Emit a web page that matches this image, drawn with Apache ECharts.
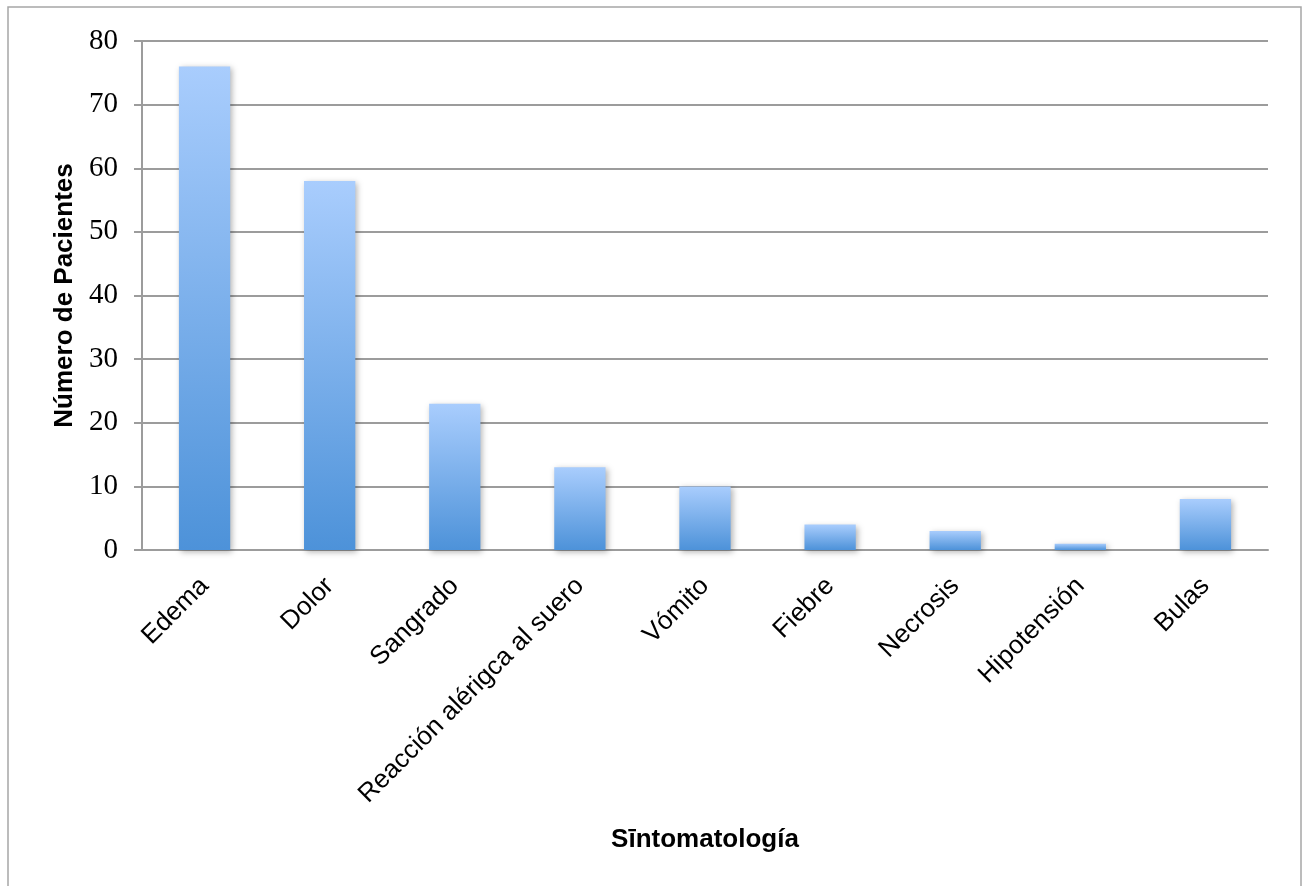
<!DOCTYPE html>
<html>
<head>
<meta charset="utf-8">
<script src="https://cdn.jsdelivr.net/npm/echarts@6/dist/echarts.min.js"></script>
<style>html,body{margin:0;padding:0;background:#fff;}#c{width:1304px;height:886px;}</style>
</head>
<body>
<div id="c"></div>
<script>
const categories = ["Edema", "Dolor", "Sangrado", "Reacción alérigca al suero", "Vómito", "Fiebre", "Necrosis", "Hipotensión", "Bulas"];
const values = [76, 58, 23, 13, 10, 4, 3, 1, 8];
const yTicks = [0, 10, 20, 30, 40, 50, 60, 70, 80];
const xTitle = "Sīntomatología";
const yTitle = "Número de Pacientes";

const chart = echarts.init(document.getElementById('c'), null, {renderer: 'canvas'});
chart.setOption({
  backgroundColor: '#ffffff',
  animation: false,
  graphic: [{
    type: 'rect',
    shape: {x: 8, y: 7, width: 1293, height: 900},
    style: {fill: 'none', stroke: '#a6a6a6', lineWidth: 1.5},
    silent: true
  }],
  grid: {left: 142, right: 36, top: 41, bottom: 336, containLabel: false},
  xAxis: {
    type: 'category',
    data: categories,
    name: xTitle,
    nameLocation: 'middle',
    nameGap: 277,
    nameTextStyle: {fontFamily: 'Liberation Sans', fontWeight: 'bold', fontSize: 26, color: '#000'},
    axisLine: {show: true, lineStyle: {color: '#9c9c9c', width: 2}},
    axisTick: {show: false},
    axisLabel: {rotate: 45, margin: 32, fontFamily: 'Liberation Sans', fontSize: 26, color: '#000', interval: 0}
  },
  yAxis: {
    type: 'value',
    min: yTicks[0],
    max: yTicks[yTicks.length - 1],
    interval: 10,
    name: yTitle,
    nameLocation: 'middle',
    nameGap: 64,
    nameTextStyle: {fontFamily: 'Liberation Sans', fontWeight: 'bold', fontSize: 26, color: '#000'},
    axisLine: {show: true, lineStyle: {color: '#9c9c9c', width: 2}},
    axisTick: {show: true, length: 8, lineStyle: {color: '#9c9c9c', width: 2}},
    axisLabel: {margin: 24, fontFamily: 'Liberation Serif', fontSize: 29, color: '#000'},
    splitLine: {show: true, lineStyle: {color: '#9c9c9c', width: 2}}
  },
  series: [{
    type: 'bar',
    data: values,
    barCategoryGap: '59%',
    itemStyle: {
      color: new echarts.graphic.LinearGradient(0, 0, 0, 1, [
        {offset: 0, color: '#a9cdfd'},
        {offset: 1, color: '#4d92d9'}
      ]),
      shadowBlur: 6,
      shadowColor: 'rgba(0,0,0,0.3)',
      shadowOffsetX: 2,
      shadowOffsetY: 2
    }
  }]
});
</script>
</body>
</html>
